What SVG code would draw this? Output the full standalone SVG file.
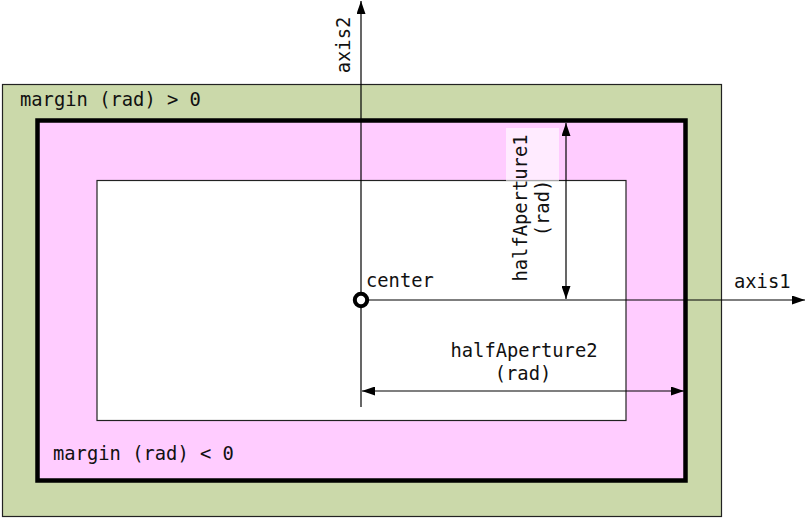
<svg xmlns="http://www.w3.org/2000/svg" width="806" height="518" viewBox="0 0 806 518">
<defs>
<marker id="arr" viewBox="0 0 13 9" refX="13" refY="4.5" markerWidth="13" markerHeight="9" markerUnits="userSpaceOnUse" orient="auto-start-reverse">
<path d="M0,0 L13,4.5 L0,9 z" fill="#000"/>
</marker>
<style>
text{font-family:"DejaVu Sans Mono","Liberation Mono",monospace;font-size:18.8px;fill:#111}
.ln{stroke:#000;stroke-width:1.2;fill:none}
</style>
</defs>
<rect width="806" height="518" fill="#fff"/>
<g id="outer-margin">
<rect x="2.5" y="84.5" width="719" height="432" fill="#cbd9aa" stroke="#222" stroke-width="1.2"/>
<text x="20" y="106">margin (rad) &gt; 0</text>
</g>
<g id="aperture">
<rect x="37.5" y="120.5" width="648" height="360" fill="#ffccff" stroke="#000" stroke-width="4.5"/>
<text x="53" y="460">margin (rad) &lt; 0</text>
</g>
<g id="inner-margin">
<rect x="97" y="180.5" width="529" height="240" fill="#fff" stroke="#222" stroke-width="1.2"/>
</g>
<g id="connectors">
<line class="ln" x1="361" y1="407" x2="361" y2="1" marker-end="url(#arr)"/>
<line class="ln" x1="361" y1="300" x2="805" y2="300" marker-end="url(#arr)"/>
<line class="ln" x1="566" y1="123" x2="566" y2="299" marker-start="url(#arr)" marker-end="url(#arr)"/>
<line class="ln" x1="362" y1="391" x2="684" y2="391" marker-start="url(#arr)" marker-end="url(#arr)"/>
</g>
<g id="center">
<circle cx="361" cy="300" r="6.2" fill="#fff" stroke="#000" stroke-width="4"/>
<text x="366" y="287">center</text>
</g>
<g id="axis1-label">
<text x="734" y="288">axis1</text>
</g>
<g id="axis2-label">
<text transform="translate(349.5,45) rotate(-90)" text-anchor="middle">axis2</text>
</g>
<g id="halfAperture1-label">
<rect x="506" y="128" width="53" height="53" fill="#fff" fill-opacity="0.6"/>
<text transform="translate(527,208) rotate(-90)" text-anchor="middle">halfAperture1</text>
<text transform="translate(549,208) rotate(-90)" text-anchor="middle">(rad)</text>
</g>
<g id="halfAperture2-label">
<text x="524" y="357" text-anchor="middle">halfAperture2</text>
<text x="523" y="380" text-anchor="middle">(rad)</text>
</g>
</svg>
